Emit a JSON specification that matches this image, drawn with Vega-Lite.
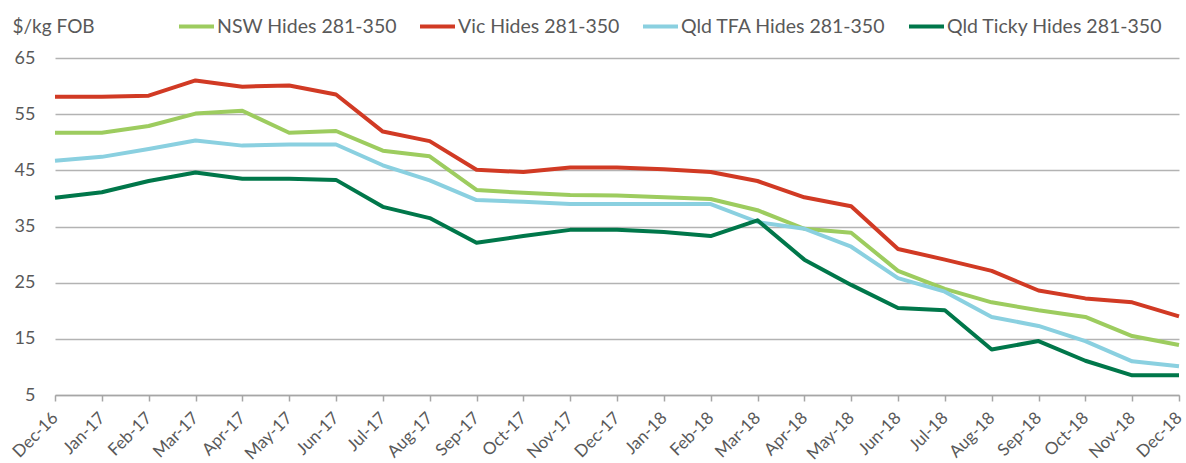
{
  "$schema": "https://vega.github.io/schema/vega-lite/v6.json",
  "width": 1124,
  "height": 337,
  "autosize": {"type": "none"},
  "padding": {"left": 55, "top": 58, "right": 7, "bottom": 68},
  "background": "white",
  "config": {
    "view": {"stroke": null},
    "font": "Lato",
    "axis": {"labelFont": "Lato", "titleFont": "Lato", "labelColor": "#595959", "titleColor": "#595959"},
    "legend": {"labelFont": "Lato"}
  },
  "data": {
    "values": [
      {"month": "Dec-16", "series": "NSW Hides 281-350", "value": 51.7},
      {"month": "Jan-17", "series": "NSW Hides 281-350", "value": 51.7},
      {"month": "Feb-17", "series": "NSW Hides 281-350", "value": 52.9},
      {"month": "Mar-17", "series": "NSW Hides 281-350", "value": 55.1},
      {"month": "Apr-17", "series": "NSW Hides 281-350", "value": 55.6},
      {"month": "May-17", "series": "NSW Hides 281-350", "value": 51.7},
      {"month": "Jun-17", "series": "NSW Hides 281-350", "value": 52.0},
      {"month": "Jul-17", "series": "NSW Hides 281-350", "value": 48.5},
      {"month": "Aug-17", "series": "NSW Hides 281-350", "value": 47.5},
      {"month": "Sep-17", "series": "NSW Hides 281-350", "value": 41.5},
      {"month": "Oct-17", "series": "NSW Hides 281-350", "value": 41.0},
      {"month": "Nov-17", "series": "NSW Hides 281-350", "value": 40.6},
      {"month": "Dec-17", "series": "NSW Hides 281-350", "value": 40.5},
      {"month": "Jan-18", "series": "NSW Hides 281-350", "value": 40.2},
      {"month": "Feb-18", "series": "NSW Hides 281-350", "value": 39.9},
      {"month": "Mar-18", "series": "NSW Hides 281-350", "value": 37.9},
      {"month": "Apr-18", "series": "NSW Hides 281-350", "value": 34.6},
      {"month": "May-18", "series": "NSW Hides 281-350", "value": 33.9},
      {"month": "Jun-18", "series": "NSW Hides 281-350", "value": 27.1},
      {"month": "Jul-18", "series": "NSW Hides 281-350", "value": 23.9},
      {"month": "Aug-18", "series": "NSW Hides 281-350", "value": 21.5},
      {"month": "Sep-18", "series": "NSW Hides 281-350", "value": 20.1},
      {"month": "Oct-18", "series": "NSW Hides 281-350", "value": 18.9},
      {"month": "Nov-18", "series": "NSW Hides 281-350", "value": 15.5},
      {"month": "Dec-18", "series": "NSW Hides 281-350", "value": 13.9},
      {"month": "Dec-16", "series": "Vic Hides 281-350", "value": 58.1},
      {"month": "Jan-17", "series": "Vic Hides 281-350", "value": 58.1},
      {"month": "Feb-17", "series": "Vic Hides 281-350", "value": 58.3},
      {"month": "Mar-17", "series": "Vic Hides 281-350", "value": 61.0},
      {"month": "Apr-17", "series": "Vic Hides 281-350", "value": 59.9},
      {"month": "May-17", "series": "Vic Hides 281-350", "value": 60.1},
      {"month": "Jun-17", "series": "Vic Hides 281-350", "value": 58.5},
      {"month": "Jul-17", "series": "Vic Hides 281-350", "value": 51.9},
      {"month": "Aug-17", "series": "Vic Hides 281-350", "value": 50.2},
      {"month": "Sep-17", "series": "Vic Hides 281-350", "value": 45.1},
      {"month": "Oct-17", "series": "Vic Hides 281-350", "value": 44.7},
      {"month": "Nov-17", "series": "Vic Hides 281-350", "value": 45.5},
      {"month": "Dec-17", "series": "Vic Hides 281-350", "value": 45.5},
      {"month": "Jan-18", "series": "Vic Hides 281-350", "value": 45.2},
      {"month": "Feb-18", "series": "Vic Hides 281-350", "value": 44.7},
      {"month": "Mar-18", "series": "Vic Hides 281-350", "value": 43.1},
      {"month": "Apr-18", "series": "Vic Hides 281-350", "value": 40.2},
      {"month": "May-18", "series": "Vic Hides 281-350", "value": 38.6},
      {"month": "Jun-18", "series": "Vic Hides 281-350", "value": 31.0},
      {"month": "Jul-18", "series": "Vic Hides 281-350", "value": 29.1},
      {"month": "Aug-18", "series": "Vic Hides 281-350", "value": 27.1},
      {"month": "Sep-18", "series": "Vic Hides 281-350", "value": 23.6},
      {"month": "Oct-18", "series": "Vic Hides 281-350", "value": 22.2},
      {"month": "Nov-18", "series": "Vic Hides 281-350", "value": 21.5},
      {"month": "Dec-18", "series": "Vic Hides 281-350", "value": 19.0},
      {"month": "Dec-16", "series": "Qld TFA Hides 281-350", "value": 46.7},
      {"month": "Jan-17", "series": "Qld TFA Hides 281-350", "value": 47.4},
      {"month": "Feb-17", "series": "Qld TFA Hides 281-350", "value": 48.8},
      {"month": "Mar-17", "series": "Qld TFA Hides 281-350", "value": 50.3},
      {"month": "Apr-17", "series": "Qld TFA Hides 281-350", "value": 49.4},
      {"month": "May-17", "series": "Qld TFA Hides 281-350", "value": 49.6},
      {"month": "Jun-17", "series": "Qld TFA Hides 281-350", "value": 49.6},
      {"month": "Jul-17", "series": "Qld TFA Hides 281-350", "value": 45.9},
      {"month": "Aug-17", "series": "Qld TFA Hides 281-350", "value": 43.2},
      {"month": "Sep-17", "series": "Qld TFA Hides 281-350", "value": 39.7},
      {"month": "Oct-17", "series": "Qld TFA Hides 281-350", "value": 39.4},
      {"month": "Nov-17", "series": "Qld TFA Hides 281-350", "value": 39.0},
      {"month": "Dec-17", "series": "Qld TFA Hides 281-350", "value": 39.0},
      {"month": "Jan-18", "series": "Qld TFA Hides 281-350", "value": 39.0},
      {"month": "Feb-18", "series": "Qld TFA Hides 281-350", "value": 39.0},
      {"month": "Mar-18", "series": "Qld TFA Hides 281-350", "value": 35.8},
      {"month": "Apr-18", "series": "Qld TFA Hides 281-350", "value": 34.6},
      {"month": "May-18", "series": "Qld TFA Hides 281-350", "value": 31.4},
      {"month": "Jun-18", "series": "Qld TFA Hides 281-350", "value": 25.8},
      {"month": "Jul-18", "series": "Qld TFA Hides 281-350", "value": 23.4},
      {"month": "Aug-18", "series": "Qld TFA Hides 281-350", "value": 18.9},
      {"month": "Sep-18", "series": "Qld TFA Hides 281-350", "value": 17.3},
      {"month": "Oct-18", "series": "Qld TFA Hides 281-350", "value": 14.6},
      {"month": "Nov-18", "series": "Qld TFA Hides 281-350", "value": 11.0},
      {"month": "Dec-18", "series": "Qld TFA Hides 281-350", "value": 10.1},
      {"month": "Dec-16", "series": "Qld Ticky Hides 281-350", "value": 40.1},
      {"month": "Jan-17", "series": "Qld Ticky Hides 281-350", "value": 41.1},
      {"month": "Feb-17", "series": "Qld Ticky Hides 281-350", "value": 43.1},
      {"month": "Mar-17", "series": "Qld Ticky Hides 281-350", "value": 44.6},
      {"month": "Apr-17", "series": "Qld Ticky Hides 281-350", "value": 43.5},
      {"month": "May-17", "series": "Qld Ticky Hides 281-350", "value": 43.5},
      {"month": "Jun-17", "series": "Qld Ticky Hides 281-350", "value": 43.3},
      {"month": "Jul-17", "series": "Qld Ticky Hides 281-350", "value": 38.5},
      {"month": "Aug-17", "series": "Qld Ticky Hides 281-350", "value": 36.5},
      {"month": "Sep-17", "series": "Qld Ticky Hides 281-350", "value": 32.1},
      {"month": "Oct-17", "series": "Qld Ticky Hides 281-350", "value": 33.3},
      {"month": "Nov-17", "series": "Qld Ticky Hides 281-350", "value": 34.4},
      {"month": "Dec-17", "series": "Qld Ticky Hides 281-350", "value": 34.4},
      {"month": "Jan-18", "series": "Qld Ticky Hides 281-350", "value": 34.0},
      {"month": "Feb-18", "series": "Qld Ticky Hides 281-350", "value": 33.3},
      {"month": "Mar-18", "series": "Qld Ticky Hides 281-350", "value": 36.1},
      {"month": "Apr-18", "series": "Qld Ticky Hides 281-350", "value": 29.1},
      {"month": "May-18", "series": "Qld Ticky Hides 281-350", "value": 24.6},
      {"month": "Jun-18", "series": "Qld Ticky Hides 281-350", "value": 20.5},
      {"month": "Jul-18", "series": "Qld Ticky Hides 281-350", "value": 20.1},
      {"month": "Aug-18", "series": "Qld Ticky Hides 281-350", "value": 13.1},
      {"month": "Sep-18", "series": "Qld Ticky Hides 281-350", "value": 14.6},
      {"month": "Oct-18", "series": "Qld Ticky Hides 281-350", "value": 11.1},
      {"month": "Nov-18", "series": "Qld Ticky Hides 281-350", "value": 8.5},
      {"month": "Dec-18", "series": "Qld Ticky Hides 281-350", "value": 8.5}
    ]
  },
  "mark": {"type": "line", "strokeWidth": 4, "strokeJoin": "round"},
  "encoding": {
    "x": {
      "field": "month",
      "type": "ordinal",
      "sort": null,
      "scale": {"type": "point", "padding": 0},
      "axis": {
        "title": null,
        "labelAngle": -45,
        "labelAlign": "right",
        "labelBaseline": "middle",
        "labelFontSize": 17,
        "labelPadding": 14,
        "labelOverlap": false,
        "labelBound": false,
        "domainColor": "#a6a6a6",
        "domainWidth": 1.5,
        "tickColor": "#a6a6a6",
        "tickWidth": 1.5,
        "tickSize": 6,
        "grid": false
      }
    },
    "y": {
      "field": "value",
      "type": "quantitative",
      "scale": {"domain": [5, 65], "nice": false, "zero": false},
      "axis": {
        "values": [5, 15, 25, 35, 45, 55, 65],
        "title": "$/kg FOB",
        "titleAngle": 0,
        "titleAlign": "left",
        "titleBaseline": "alphabetic",
        "titleX": -43,
        "titleY": -26,
        "titleFontSize": 19,
        "titleFontWeight": "normal",
        "labelFontSize": 18,
        "labelPadding": 20,
        "domain": false,
        "ticks": false,
        "grid": true,
        "gridColor": "#b3b3b3",
        "gridWidth": 1.6
      }
    },
    "color": {
      "field": "series",
      "type": "nominal",
      "sort": null,
      "scale": {
        "domain": ["NSW Hides 281-350", "Vic Hides 281-350", "Qld TFA Hides 281-350", "Qld Ticky Hides 281-350"],
        "range": ["#9dcc5f", "#d13a24", "#8ad0e0", "#00774a"]
      },
      "legend": {
        "title": null,
        "orient": "none",
        "direction": "horizontal",
        "legendX": 122,
        "legendY": -51,
        "symbolType": "stroke",
        "symbolSize": 1225,
        "symbolStrokeWidth": 4,
        "labelFontSize": 19.5,
        "labelColor": "#595959",
        "labelOffset": 1,
        "columnPadding": 15,
        "labelLimit": 300
      }
    }
  }
}
